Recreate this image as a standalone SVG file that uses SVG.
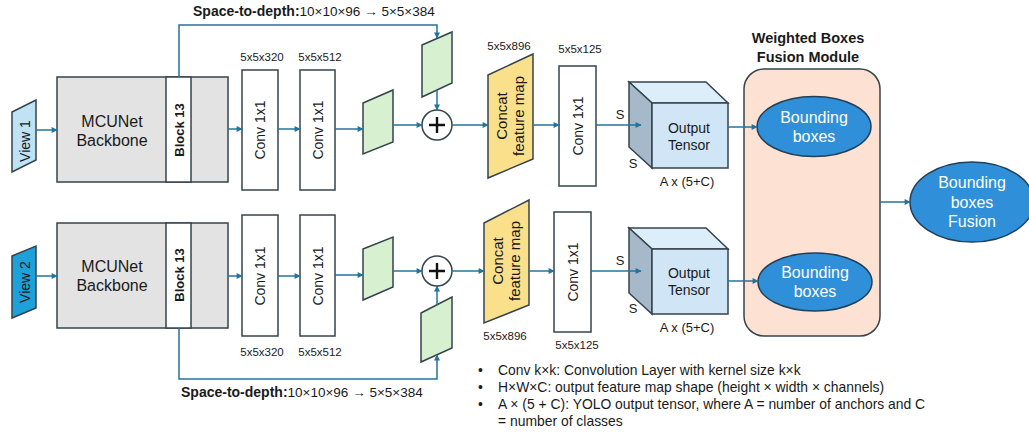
<svg xmlns="http://www.w3.org/2000/svg" width="1029" height="433" viewBox="0 0 1029 433">
<defs>
<style>
text{font-family:"Liberation Sans",Arial,sans-serif;fill:#1a1a1a}
.stroke{stroke:#34434c;stroke-width:1.5}
.bb{fill:#e3e3e3}
.wh{fill:#ffffff}
.gr{fill:#d6f0d0}
.cc{fill:#fbe08c}
.lbl{font-size:11.5px}
.conv{font-size:14px}
.c{stroke:#24739b;stroke-width:1.5;fill:none}
.ell{fill:#2f8fd8;stroke:#22405a;stroke-width:1.5}
.et{fill:#ffffff;font-size:16px}
.leg{font-size:13.9px}
</style>
<marker id="ah" viewBox="0 0 10 10" refX="9" refY="5" markerWidth="7" markerHeight="6" orient="auto" markerUnits="userSpaceOnUse"><path d="M0,0 L10,5 L0,10 z" fill="#24739b"/></marker>
</defs>
<rect width="1029" height="433" fill="#ffffff"/>

<!-- Top branch -->
<g id="view1">
<polygon points="12,112 36,100 36,160 12,172" fill="#bfe3f4" class="stroke"/>
<text transform="translate(25,141) rotate(-90)" text-anchor="middle" dominant-baseline="central" font-size="14">View 1</text>
</g>
<g id="backbone1">
<rect x="57" y="77" width="171" height="105" class="bb stroke"/>
<rect x="166" y="77" width="25" height="105" class="wh stroke"/>
<text x="112" y="127" text-anchor="middle" font-size="16">MCUNet</text>
<text x="112" y="146" text-anchor="middle" font-size="16">Backbone</text>
<text transform="translate(179,130) rotate(-90)" text-anchor="middle" dominant-baseline="central" font-size="13" font-weight="bold">Block 13</text>
</g>
<g id="conv1a">
<rect x="242" y="70" width="36" height="120" class="wh stroke"/>
<text transform="translate(260,130) rotate(-90)" text-anchor="middle" dominant-baseline="central" class="conv">Conv 1x1</text>
<text x="262" y="61" text-anchor="middle" class="lbl">5x5x320</text>
</g>
<g id="conv2a">
<rect x="300" y="70" width="35" height="120" class="wh stroke"/>
<text transform="translate(317.5,130) rotate(-90)" text-anchor="middle" dominant-baseline="central" class="conv">Conv 1x1</text>
<text x="320" y="61" text-anchor="middle" class="lbl">5x5x512</text>
</g>
<g id="green1a"><polygon points="363,103 393,90 393,142 363,154" class="gr stroke"/></g>
<g id="green2a"><polygon points="422,45 452,32 452,83 422,97" class="gr stroke"/></g>
<g id="plus1">
<circle cx="437" cy="125" r="15" fill="#ffffff" class="stroke"/>
<path d="M429,125 H445 M437,117 V133" stroke="#111" stroke-width="2.4"/>
</g>
<g id="concat1">
<polygon points="488,75 533,54 533,159 488,178" class="cc stroke"/>
<text transform="translate(510,116) rotate(-90)" text-anchor="middle" font-size="15"><tspan x="0" y="-3">Concat</tspan><tspan x="0" y="14">feature map</tspan></text>
<text x="509" y="50" text-anchor="middle" class="lbl">5x5x896</text>
</g>
<g id="conv3a">
<rect x="559" y="66" width="37" height="120" class="wh stroke"/>
<text transform="translate(577.5,126) rotate(-90)" text-anchor="middle" dominant-baseline="central" class="conv">Conv 1x1</text>
<text x="580" y="53" text-anchor="middle" class="lbl">5x5x125</text>
</g>
<g id="cube1">
<polygon points="629,82 706,82 728,103 652,103" fill="#dceefa" class="stroke"/>
<polygon points="629,82 652,103 652,168 629,147" fill="#a6b9cb" class="stroke"/>
<rect x="652" y="103" width="76" height="65" fill="#d0e6f7" class="stroke"/>
<text x="689" y="133" text-anchor="middle" font-size="14">Output</text>
<text x="689" y="150" text-anchor="middle" font-size="14">Tensor</text>
<text x="620" y="119" text-anchor="middle" font-size="13">S</text>
<text x="633" y="168" text-anchor="middle" font-size="13">S</text>
<text x="687" y="186" text-anchor="middle" font-size="13">A x (5+C)</text>
</g>

<!-- Bottom branch -->
<g id="view2">
<polygon points="12,256 36,246 36,308 12,318" fill="#1da1d8" class="stroke"/>
<text transform="translate(25,282) rotate(-90)" text-anchor="middle" dominant-baseline="central" font-size="14">View 2</text>
</g>
<g id="backbone2">
<rect x="57" y="223" width="171" height="105" class="bb stroke"/>
<rect x="166" y="223" width="25" height="105" class="wh stroke"/>
<text x="112" y="272" text-anchor="middle" font-size="16">MCUNet</text>
<text x="112" y="291" text-anchor="middle" font-size="16">Backbone</text>
<text transform="translate(179,275) rotate(-90)" text-anchor="middle" dominant-baseline="central" font-size="13" font-weight="bold">Block 13</text>
</g>
<g id="conv1b">
<rect x="242" y="215" width="36" height="121" class="wh stroke"/>
<text transform="translate(260,276) rotate(-90)" text-anchor="middle" dominant-baseline="central" class="conv">Conv 1x1</text>
<text x="262" y="356" text-anchor="middle" class="lbl">5x5x320</text>
</g>
<g id="conv2b">
<rect x="300" y="215" width="35" height="121" class="wh stroke"/>
<text transform="translate(317.5,276) rotate(-90)" text-anchor="middle" dominant-baseline="central" class="conv">Conv 1x1</text>
<text x="320" y="356" text-anchor="middle" class="lbl">5x5x512</text>
</g>
<g id="green1b"><polygon points="363,249 393,237 393,287 363,300" class="gr stroke"/></g>
<g id="green2b"><polygon points="421,313 452,297 452,348 421,362" class="gr stroke"/></g>
<g id="plus2">
<circle cx="437" cy="271" r="15" fill="#ffffff" class="stroke"/>
<path d="M429,271 H445 M437,263 V279" stroke="#111" stroke-width="2.4"/>
</g>
<g id="concat2">
<polygon points="484,223 529,200 529,305 484,323" class="cc stroke"/>
<text transform="translate(506,261) rotate(-90)" text-anchor="middle" font-size="15"><tspan x="0" y="-3">Concat</tspan><tspan x="0" y="14">feature map</tspan></text>
<text x="505" y="340" text-anchor="middle" class="lbl">5x5x896</text>
</g>
<g id="conv3b">
<rect x="554" y="212" width="37" height="120" class="wh stroke"/>
<text transform="translate(572.5,272) rotate(-90)" text-anchor="middle" dominant-baseline="central" class="conv">Conv 1x1</text>
<text x="577" y="349" text-anchor="middle" class="lbl">5x5x125</text>
</g>
<g id="cube2">
<polygon points="629,228 706,228 728,249 652,249" fill="#dceefa" class="stroke"/>
<polygon points="629,228 652,249 652,314 629,293" fill="#a6b9cb" class="stroke"/>
<rect x="652" y="249" width="76" height="65" fill="#d0e6f7" class="stroke"/>
<text x="689" y="278" text-anchor="middle" font-size="14">Output</text>
<text x="689" y="295" text-anchor="middle" font-size="14">Tensor</text>
<text x="620" y="265" text-anchor="middle" font-size="13">S</text>
<text x="633" y="313" text-anchor="middle" font-size="13">S</text>
<text x="687" y="332" text-anchor="middle" font-size="13">A x (5+C)</text>
</g>

<!-- WBF module -->
<g id="wbf">
<text x="808" y="43" text-anchor="middle" font-size="14.5" font-weight="bold">Weighted Boxes</text>
<text x="808" y="62" text-anchor="middle" font-size="14.5" font-weight="bold">Fusion Module</text>
<rect x="744" y="69" width="136" height="267" rx="20" ry="20" fill="#fde1d3" class="stroke"/>
</g>
<g id="bbox1">
<ellipse cx="814" cy="126.5" rx="57" ry="30" class="ell"/>
<text x="814" y="123" text-anchor="middle" class="et">Bounding</text>
<text x="814" y="142" text-anchor="middle" class="et">boxes</text>
</g>
<g id="bbox2">
<ellipse cx="815" cy="282" rx="57" ry="29" class="ell"/>
<text x="815" y="278" text-anchor="middle" class="et">Bounding</text>
<text x="815" y="297" text-anchor="middle" class="et">boxes</text>
</g>
<g id="fusion">
<ellipse cx="972" cy="202" rx="62" ry="40" class="ell"/>
<text x="972" y="188" text-anchor="middle" class="et">Bounding</text>
<text x="972" y="208" text-anchor="middle" class="et">boxes</text>
<text x="972" y="227" text-anchor="middle" class="et">Fusion</text>
</g>

<!-- Space-to-depth labels -->
<text x="193" y="16" font-size="13.5"><tspan font-weight="bold" font-size="14">Space-to-depth:</tspan>10×10×96 → 5×5×384</text>
<text x="181" y="397" font-size="13.5"><tspan font-weight="bold" font-size="14">Space-to-depth:</tspan>10×10×96 → 5×5×384</text>

<!-- Legend -->
<g id="legend" class="leg">
<text x="478" y="375" class="leg">•</text>
<text x="498" y="375" class="leg">Conv k×k: Convolution Layer with kernel size k×k</text>
<text x="478" y="392" class="leg">•</text>
<text x="498" y="392" class="leg">H×W×C: output feature map shape (height × width × channels)</text>
<text x="478" y="409" class="leg">•</text>
<text x="498" y="409" class="leg">A × (5 + C): YOLO output tensor, where A = number of anchors and C</text>
<text x="498" y="426" class="leg">= number of classes</text>
</g>

<!-- Connectors -->
<g id="connectors">
<line x1="36" y1="130" x2="57" y2="130" class="c" marker-end="url(#ah)"/>
<line x1="228" y1="129" x2="242" y2="129" class="c" marker-end="url(#ah)"/>
<line x1="278" y1="129" x2="300" y2="129" class="c" marker-end="url(#ah)"/>
<line x1="335" y1="129" x2="363" y2="129" class="c" marker-end="url(#ah)"/>
<line x1="393" y1="125" x2="422" y2="125" class="c" marker-end="url(#ah)"/>
<line x1="452" y1="125" x2="488" y2="125" class="c" marker-end="url(#ah)"/>
<line x1="533" y1="125" x2="559" y2="125" class="c" marker-end="url(#ah)"/>
<line x1="596" y1="125" x2="641" y2="125" class="c" marker-end="url(#ah)"/>
<line x1="728" y1="127" x2="757" y2="127" class="c" marker-end="url(#ah)"/>
<polyline points="179,77 179,25 437,25 437,38" class="c" marker-end="url(#ah)"/>
<line x1="437" y1="90" x2="437" y2="110" class="c" marker-end="url(#ah)"/>

<line x1="36" y1="276" x2="57" y2="276" class="c" marker-end="url(#ah)"/>
<line x1="228" y1="276" x2="242" y2="276" class="c" marker-end="url(#ah)"/>
<line x1="278" y1="276" x2="300" y2="276" class="c" marker-end="url(#ah)"/>
<line x1="335" y1="275" x2="363" y2="275" class="c" marker-end="url(#ah)"/>
<line x1="393" y1="271" x2="422" y2="271" class="c" marker-end="url(#ah)"/>
<line x1="452" y1="271" x2="484" y2="271" class="c" marker-end="url(#ah)"/>
<line x1="529" y1="271" x2="554" y2="271" class="c" marker-end="url(#ah)"/>
<line x1="591" y1="271" x2="641" y2="271" class="c" marker-end="url(#ah)"/>
<line x1="728" y1="281" x2="758" y2="281" class="c" marker-end="url(#ah)"/>
<polyline points="179,328 179,379 437,379 437,355" class="c" marker-end="url(#ah)"/>
<line x1="437" y1="305" x2="437" y2="286" class="c" marker-end="url(#ah)"/>

<line x1="880" y1="202" x2="910" y2="202" class="c" marker-end="url(#ah)"/>
</g>
</svg>
